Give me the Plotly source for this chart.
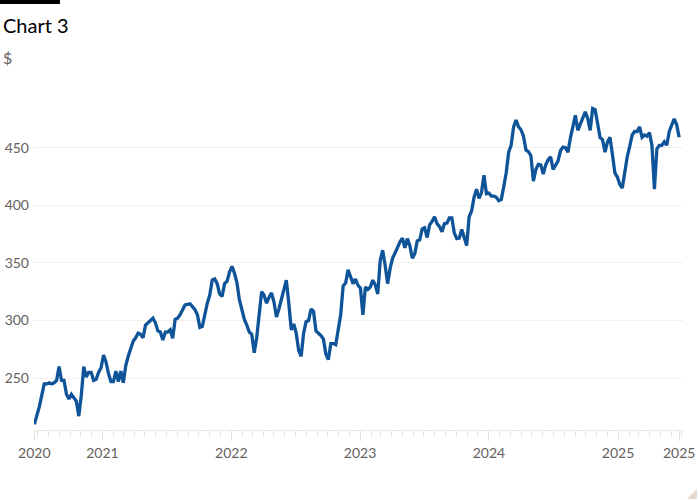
import pandas as pd
import plotly.graph_objects as go

# Weekly series, first week starting 2020-06-22
start_date = "2020-06-22"
price = [
    210, 217, 225, 235, 245, 245, 246, 245, 246, 248,
    260, 248, 248, 236, 232, 236, 233, 230, 217, 235,
    260, 251, 255, 255, 248, 249, 255, 259, 270, 264,
    254, 247, 247, 256, 247, 256, 246, 261, 269, 276,
    282, 285, 289, 288, 285, 296, 298, 300, 302, 298,
    291, 290, 283, 290, 290, 292, 284.5, 301, 302, 305,
    310, 313.5, 314, 314.5, 312, 309.5, 305, 294, 295, 307,
    315, 322, 335, 336, 332, 323, 321, 332, 334, 342,
    347, 341, 333, 318, 310, 301, 296, 290, 288, 272,
    285, 305, 325, 322, 315, 320, 324, 316, 303, 310,
    318, 326, 335, 315, 292, 297, 289, 274, 269, 289,
    299, 300, 310, 308, 291, 289, 287, 284, 271, 266,
    280, 280, 279, 292, 305, 330, 332.5, 344, 337, 332,
    336, 330.6, 328, 305, 329, 327, 329, 335, 331, 323,
    352, 361, 348, 332, 345, 354, 358.5, 363.5, 368.3, 371.5,
    363, 371, 365, 354, 358, 369, 370, 379.5, 380.5, 372,
    383, 386, 390, 384, 381.5, 377, 384, 384.5, 389, 389,
    376, 371, 371.5, 379, 372, 365, 390, 395, 407, 414,
    406, 411, 426, 410, 410.5, 408, 408, 407, 404, 405,
    416, 428, 446, 452, 468, 474, 468, 465.5, 460, 448,
    446.5, 443, 421, 431, 435.5, 435, 427, 435, 439.5, 442,
    431, 435, 438.5, 447.5, 450.5, 450, 446, 458.5, 467.5, 478,
    465, 471, 476.5, 481, 475.5, 465, 484, 483, 471, 458.7,
    457, 446, 455, 459, 444, 428, 424.5, 418, 415, 430,
    442, 451, 461, 464, 464, 468, 459, 461, 460, 463,
    452, 414, 449, 452, 452, 455, 452, 464, 469.5, 475,
    470, 459,
]
dates = pd.date_range(start_date, periods=len(price), freq="7D")

year_ticks = ["2021-01-01", "2022-01-01", "2023-01-01", "2024-01-01", "2025-01-01"]
tick_vals = [dates[0]] + [pd.Timestamp(t) for t in year_ticks] + [dates[-1]]
tick_text = ["2020", "2021", "2022", "2023", "2024", "2025", "2025"]
y_ticks = [250, 300, 350, 400, 450]

GRAY = "#66605c"
FONT = "Lato, 'Open Sans', sans-serif"

fig = go.Figure()
fig.add_trace(go.Scatter(
    x=dates, y=price, mode="lines",
    line=dict(color="#0f5499", width=3.3),
    hoverinfo="skip", showlegend=False,
))

fig.update_layout(
    width=700, height=500,
    margin=dict(l=34, r=17, t=90, b=70, autoexpand=False),
    paper_bgcolor="white", plot_bgcolor="white",
    font=dict(family=FONT, color=GRAY, size=14),
    xaxis=dict(
        automargin=False,
        range=[dates[0] - pd.Timedelta(days=1), dates[-1] + pd.Timedelta(days=11)],
        tickmode="array", tickvals=tick_vals, ticktext=tick_text,
        ticks="outside", ticklen=10, tickcolor="#e2dfdc", tickwidth=1,
        showline=True, linecolor="#ebe8e5", linewidth=1,
        showgrid=False, zeroline=False,
        tickfont=dict(size=14, color=GRAY, family=FONT),
        minor=dict(dtick="M1", tick0="2020-01-01", ticks="outside", ticklen=6,
                   tickcolor="#e6e3e0", showgrid=False),
    ),
    yaxis=dict(
        automargin=False,
        range=[205, 500],
        tickmode="array", tickvals=y_ticks,
        showgrid=True, gridcolor="#f2f0ee", gridwidth=1,
        zeroline=False, showline=False, ticks="",
        ticklabelstandoff=4,
        tickfont=dict(size=14, color=GRAY, family=FONT),
    ),
)

fig.add_annotation(text="Chart 3", xref="paper", yref="paper",
                   x=-0.051, y=1.19, xanchor="left", yanchor="middle",
                   showarrow=False, font=dict(size=20, color="#000000", family=FONT))
fig.add_annotation(text="$", xref="paper", yref="paper",
                   x=-0.051, y=1.095, xanchor="left", yanchor="middle",
                   showarrow=False, font=dict(size=16, color=GRAY, family=FONT))
fig.add_shape(type="rect", xref="paper", yref="paper",
              x0=-0.0524, x1=0.040, y0=1.253, y1=1.265,
              fillcolor="#000000", line=dict(width=0))
fig.add_shape(type="path", xref="paper", yref="paper",
              path="M 1.0216 -0.2031 L 1.0216 -0.1737 L 1.0062 -0.2031 Z",
              fillcolor="#e3d9cc", line=dict(width=0))

fig.write_html("out.html",
               config={"displayModeBar": False, "staticPlot": True},
               post_script="document.body.style.margin='0';document.body.style.overflow='hidden';")
